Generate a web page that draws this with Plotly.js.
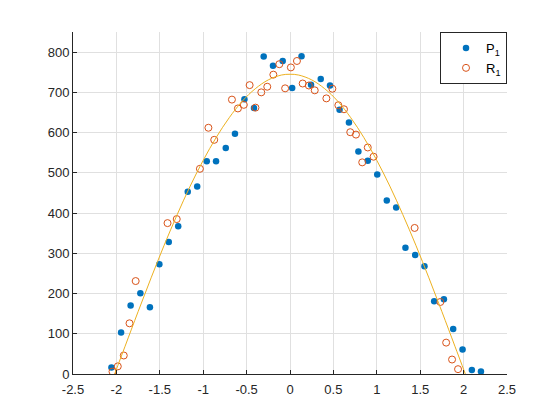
<!DOCTYPE html>
<html>
<head>
<meta charset="utf-8">
<script src="https://cdn.plot.ly/plotly-3.0.1.min.js"></script>
<style>
  html, body { margin: 0; padding: 0; background: #ffffff; }
  #chart { width: 560px; height: 420px; }
</style>
</head>
<body>
<div id="chart"></div>
<script>
// Series P1 (filled blue dots)
var pX = [-2.057, -1.946, -1.836, -1.724, -1.614, -1.505, -1.397, -1.288, -1.178, -1.069,
          -0.959, -0.852, -0.740, -0.634, -0.525, -0.415, -0.303, -0.196, -0.084, 0.025,
          0.133, 0.242, 0.354, 0.461, 0.571, 0.679, 0.788, 0.896, 1.005, 1.115,
          1.223, 1.330, 1.442, 1.549, 1.661, 1.773, 1.880, 1.988, 2.095, 2.200];
var pY = [16, 103, 170, 201, 166, 273, 328, 367, 453, 466,
          529, 529, 562, 597, 683, 661, 789, 766, 778, 711,
          790, 719, 733, 717, 657, 625, 553, 530, 496, 431,
          414, 314, 296, 268, 181, 186, 112, 61, 10, 6];

// Series R1 (open orange circles)
var rX = [-2.045, -1.984, -1.915, -1.849, -1.778, -1.411, -1.305, -1.038, -0.940, -0.873,
          -0.669, -0.600, -0.532, -0.465, -0.398, -0.331, -0.262, -0.192, -0.123, -0.056,
          0.010, 0.080, 0.146, 0.217, 0.285, 0.419, 0.488, 0.557, 0.622, 0.694,
          0.760, 0.832, 0.896, 0.963, 1.436, 1.732, 1.799, 1.867, 1.936];
var rY = [6, 19, 46, 126, 231, 375, 385, 510, 612, 582,
          682, 660, 669, 718, 662, 700, 714, 744, 770, 710,
          762, 778, 722, 717, 705, 685, 709, 668, 658, 601,
          595, 526, 563, 540, 363, 179, 78, 36, 12];

// Fitted curve (yellow line)
var fitX = [-2.02, -1.9, -1.75, -1.6, -1.45, -1.3, -1.15, -1.0, -0.85, -0.7, -0.55, -0.4, -0.25, -0.1, 0,
            0.1, 0.25, 0.4, 0.55, 0.7, 0.85, 1.0, 1.15, 1.3, 1.45, 1.6, 1.75, 1.9, 2.02];
var fitY = [0, 69, 155, 239, 320, 396, 467, 531, 588, 637, 678, 709, 731, 743, 745,
            743, 731, 709, 678, 637, 588, 531, 467, 396, 320, 239, 155, 69, 0];

// Tick labels
var xTickVals = [-2.5, -2, -1.5, -1, -0.5, 0, 0.5, 1, 1.5, 2, 2.5];
var xTickText = ["-2.5", "-2", "-1.5", "-1", "-0.5", "0", "0.5", "1", "1.5", "2", "2.5"];
var yTickVals = [0, 100, 200, 300, 400, 500, 600, 700, 800];
var yTickText = ["0", "100", "200", "300", "400", "500", "600", "700", "800"];

var seriesNames = ["P<sub>1</sub>", "R<sub>1</sub>"];

var axisColor = "#262626";
var gridColor = "#e0e0e0";
var fontFamily = "'Liberation Sans', Arial, Helvetica, sans-serif";

var traces = [
  {
    x: pX, y: pY, type: "scatter", mode: "markers", name: seriesNames[0],
    marker: { color: "#0072BD", size: 6.5, symbol: "circle", line: { width: 0 } }
  },
  {
    x: rX, y: rY, type: "scatter", mode: "markers", name: seriesNames[1],
    marker: { color: "#D95319", size: 7, symbol: "circle-open", line: { width: 1, color: "#D95319" } }
  },
  {
    x: fitX, y: fitY, type: "scatter", mode: "lines", showlegend: false,
    line: { color: "#EDB120", width: 1, shape: "spline", smoothing: 1 },
    hoverinfo: "skip"
  }
];

var layout = {
  width: 560, height: 420,
  margin: { l: 73, r: 53, t: 32, b: 46, pad: 0 },
  paper_bgcolor: "#ffffff",
  plot_bgcolor: "#ffffff",
  font: { family: fontFamily, size: 13, color: axisColor },
  showlegend: true,
  legend: {
    x: 1, xanchor: "right", y: 1, yanchor: "top",
    bgcolor: "#ffffff", bordercolor: axisColor, borderwidth: 1,
    font: { family: fontFamily, size: 13, color: "#000000" },
    itemwidth: 30, indentation: 5
  },
  xaxis: {
    range: [-2.5, 2.5],
    tickmode: "array", tickvals: xTickVals, ticktext: xTickText,
    showgrid: true, gridcolor: gridColor, gridwidth: 1,
    zeroline: false,
    showline: true, linecolor: axisColor, linewidth: 1, mirror: false,
    ticks: "inside", ticklen: 4, tickcolor: axisColor, tickwidth: 1,
    ticklabelstandoff: 3,
    tickfont: { family: fontFamily, size: 13, color: axisColor }
  },
  yaxis: {
    range: [0, 850],
    tickmode: "array", tickvals: yTickVals, ticktext: yTickText,
    showgrid: true, gridcolor: gridColor, gridwidth: 1,
    zeroline: false,
    showline: true, linecolor: axisColor, linewidth: 1, mirror: false,
    ticks: "inside", ticklen: 4, tickcolor: axisColor, tickwidth: 1,
    tickfont: { family: fontFamily, size: 13, color: axisColor }
  }
};

Plotly.newPlot("chart", traces, layout, { staticPlot: true, displayModeBar: false });
</script>
</body>
</html>
